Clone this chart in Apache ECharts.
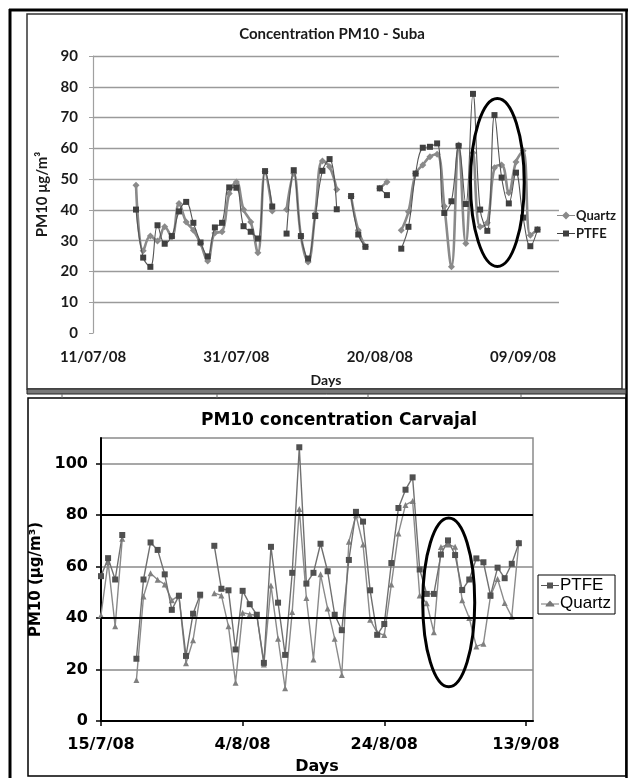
<!DOCTYPE html>
<html><head><meta charset="utf-8">
<script src="https://cdn.jsdelivr.net/npm/echarts@6/dist/echarts.min.js"></script>
<style>html,body{margin:0;padding:0;background:#fff}#c{width:631px;height:778px}</style>
</head><body><div id="c"></div>
<script>
// ---------- Suba (top chart) : day 0 = 11/07/08, first value on day 6 ----------
const subaStartDay = 6;
const subaTickLabels = ['11/07/08', '31/07/08', '20/08/08', '09/09/08'];
const subaQuartz = [48.0, 26.7, 31.5, 29.9, 34.5, 31.2, 42.1, 36.1, 33.4, 29.1,
  23.4, 32.5, 32.9, 45.3, 49.1, 40.1, 36.1, 26.1, 52.4, 39.6,
  null, 40.1, 51.8, 31.5, 23.1, 38.8, 55.9, 54.0, 46.6, null,
  44.3, 33.4, 28.0, null, 47.0, 49.1, null, 33.4, 39.4, 51.8,
  54.6, 57.3, 58.1, 41.2, 21.5, 61.1, 29.1, 58.6, 34.5, 35.8,
  53.7, 54.6, 45.6, 55.6, 59.2, 31.8, 33.6];
const subaPTFE = [40.1, 24.5, 21.5, 35.0, 29.0, 31.5, 39.5, 42.6, 35.8, 29.4,
  24.9, 34.3, 35.8, 47.3, 47.2, 34.7, 32.9, 30.7, 52.6, 41.1,
  null, 32.3, 52.9, 31.5, 24.2, 38.0, 52.7, 56.5, 40.2, null,
  44.5, 32.0, 28.0, null, 47.0, 44.8, null, 27.4, 34.5, 51.8,
  60.2, 60.5, 61.6, 39.0, 42.8, 60.8, 41.9, 77.7, 40.1, 33.2,
  70.8, 50.5, 42.1, 52.1, 37.5, 28.2, 33.6];

// ---------- Carvajal (bottom chart) : day 0 = 15/7/08 ----------
const carvajalStartDay = 0;
const carvajalTickLabels = ['15/7/08', '4/8/08', '24/8/08', '13/9/08'];
const carvajalPTFE = [56.3, 63.3, 55.0, 72.3, null, 24.2, 55.0, 69.4, 66.5, 57.0,
  43.2, 48.7, 25.3, 41.7, 49.1, null, 68.1, 51.4, 50.8, 27.8,
  50.6, 45.4, 41.3, 22.6, 67.7, 46.0, 25.7, 57.6, 106.4, 53.4,
  57.6, 68.9, 58.2, 41.3, 35.3, 62.6, 81.3, 77.5, 50.8, 33.5,
  37.7, 61.4, 82.8, 89.9, 94.7, 58.9, 49.4, 49.4, 64.7, 70.2,
  64.5, 50.9, 55.0, 63.2, 61.7, 48.8, 59.6, 55.5, 61.1, 69.1];
const carvajalQuartz = [41.1, 61.7, 36.8, 70.8, null, 15.9, 48.4, 57.4, 54.9, 53.1,
  46.9, 48.8, 22.4, 31.4, 48.8, null, 49.7, 48.8, 36.8, 14.9,
  42.1, 41.5, 41.0, 22.0, 52.7, 32.0, 12.7, 42.4, 82.4, 47.8,
  23.9, 57.0, 43.7, 32.0, 17.9, 69.7, 80.0, 68.6, 39.4, 34.3,
  33.4, 53.1, 72.9, 84.0, 85.5, 48.8, 45.8, 34.5, 67.6, 68.6,
  67.7, 46.9, 40.0, 29.0, 30.0, 48.6, 55.2, 45.9, 40.5, 69.5];

// highlighted periods (ellipse annotations, in data units)
const subaHighlight = { day: 56.4, value: 48.9, rxDays: 3.75, ryValue: 27.3 };
const carvajalHighlight = { day: 49.1, value: 46.1, rxDays: 3.67, ryValue: 32.8 };

function toPairs(start, arr) { return arr.map((v, i) => [start + i, v]); }

const chart = echarts.init(document.getElementById('c'), null, { renderer: 'canvas' });

const topFont = { fontFamily: 'Lato', fontWeight: 'bold', color: '#1a1a1a' };
const botFont = { fontFamily: 'DejaVu Sans', fontWeight: 'bold', color: '#000' };

// legend glyphs: a short line with a marker in the middle
const iconLineDiamond = 'path://M0,3.5H5.5L9,0L12.5,3.5H18V4.5H12.5L9,8L5.5,4.5H0Z';
const iconLineSquare = 'path://M0,3.5H6V1H12V3.5H18V4.5H12V7H6V4.5H0Z';
const iconLineTriangle = 'path://M0,3.5H6.2L9,0.5L11.8,3.5H18V4.5H12.7L13.6,6.5H4.4L5.3,4.5H0Z';

const staticGraphics = [
  { id: 'outL', type: 'line', shape: { x1: 10, y1: 9, x2: 10, y2: 778 }, style: { stroke: '#000', lineWidth: 3 }, z: 50 },
  { id: 'outT', type: 'line', shape: { x1: 9, y1: 10, x2: 628, y2: 10 }, style: { stroke: '#000', lineWidth: 3 }, z: 50 },
  { id: 'outR', type: 'line', shape: { x1: 626.5, y1: 9, x2: 626.5, y2: 778 }, style: { stroke: '#000', lineWidth: 2.5 }, z: 50 },
  { id: 'topBox', type: 'rect', shape: { x: 27, y: 14, width: 595, height: 375 }, style: { fill: null, stroke: '#333', lineWidth: 1.5 }, z: 50 },
  { id: 'band', type: 'rect', shape: { x: 27, y: 389, width: 599, height: 5 }, style: { fill: '#777', stroke: '#222', lineWidth: 1 }, z: 50 },
  { id: 'botBox', type: 'rect', shape: { x: 28, y: 398, width: 598, height: 378 }, style: { fill: null, stroke: '#000', lineWidth: 1.5 }, z: 50 },
  { id: 'm1', type: 'line', shape: { x1: 62, y1: 394, x2: 62, y2: 398 }, style: { stroke: '#666', lineWidth: 1 }, z: 50 },
  { id: 'm2', type: 'line', shape: { x1: 217, y1: 394, x2: 217, y2: 398 }, style: { stroke: '#666', lineWidth: 1 }, z: 50 },
  { id: 'm3', type: 'line', shape: { x1: 368, y1: 394, x2: 368, y2: 398 }, style: { stroke: '#666', lineWidth: 1 }, z: 50 },
  { id: 'm4', type: 'line', shape: { x1: 521, y1: 394, x2: 521, y2: 398 }, style: { stroke: '#666', lineWidth: 1 }, z: 50 }
];

const option = {
  animation: false,
  backgroundColor: '#fff',
  title: [
    { text: 'Concentration PM10 - Suba', left: 327, top: 22, textAlign: 'center',
      textStyle: Object.assign({ fontSize: 15 }, topFont) },
    { text: 'PM10 concentration Carvajal', left: 334, top: 407, textAlign: 'center',
      textStyle: Object.assign({ fontSize: 17 }, botFont) }
  ],
  legend: [
    { orient: 'vertical', left: 557, top: 209, itemGap: 5, itemWidth: 18, itemHeight: 8, padding: 0,
      selectedMode: false,
      textStyle: Object.assign({ fontSize: 13, padding: [0, 0, 0, -4] }, topFont),
      data: [
        { name: 'Quartz', icon: iconLineDiamond, itemStyle: { color: '#8a8a8a' } },
        { name: 'PTFE', icon: iconLineSquare, itemStyle: { color: '#404040' } }
      ] },
    { orient: 'vertical', left: 538, top: 575, itemGap: 1, itemWidth: 18, itemHeight: 7,
      padding: [2, 4, 2, 3], borderColor: '#000', borderWidth: 1, backgroundColor: '#fff',
      selectedMode: false,
      textStyle: { fontFamily: 'Liberation Sans', fontSize: 17, color: '#000', padding: [0, 0, 0, -4] },
      data: [
        { name: 'PTFE', icon: iconLineSquare, itemStyle: { color: '#555' } },
        { name: 'Quartz', icon: iconLineTriangle, itemStyle: { color: '#777' } }
      ] }
  ],
  grid: [
    { left: 93, top: 56, width: 466, height: 277 },
    { left: 101, top: 438, width: 432, height: 283, show: true, borderColor: '#8a8a8a', borderWidth: 1.5 }
  ],
  xAxis: [
    { type: 'value', gridIndex: 0, min: 0, max: 65, interval: 20,
      axisLine: { show: false }, axisTick: { show: false }, splitLine: { show: false },
      axisLabel: Object.assign({ fontSize: 15, margin: 17, showMaxLabel: false,
        formatter: v => (v % 20 === 0 ? subaTickLabels[v / 20] : '') }, topFont),
      name: 'Days', nameLocation: 'middle', nameGap: 40,
      nameTextStyle: Object.assign({ fontSize: 14 }, topFont) },
    { type: 'value', gridIndex: 1, min: 0, max: 61, interval: 20,
      axisLine: { show: true, lineStyle: { color: '#000', width: 2 } },
      axisTick: { show: true, length: 5, lineStyle: { color: '#000', width: 1.5 } },
      splitLine: { show: false },
      axisLabel: Object.assign({ fontSize: 16, margin: 16, showMaxLabel: false,
        formatter: v => (v % 20 === 0 ? carvajalTickLabels[v / 20] : '') }, botFont),
      name: 'Days', nameLocation: 'middle', nameGap: 38,
      nameTextStyle: Object.assign({ fontSize: 16 }, botFont) }
  ],
  yAxis: [
    { type: 'value', gridIndex: 0, min: 0, max: 90, interval: 10,
      axisLine: { show: true, lineStyle: { color: '#a0a0a0', width: 1.2 } },
      axisTick: { show: true, length: 4, lineStyle: { color: '#a0a0a0' } },
      splitLine: { show: true, showMinLine: false, lineStyle: { color: '#9a9a9a', width: 1.3 } },
      axisLabel: Object.assign({ fontSize: 15, margin: 15 }, topFont),
      name: 'PM10 μg/m³', nameLocation: 'middle', nameGap: 41,
      nameTextStyle: Object.assign({ fontSize: 15 }, topFont) },
    { type: 'value', gridIndex: 1, min: 0, max: 110, interval: 20,
      axisLine: { show: true, lineStyle: { color: '#000', width: 2 } },
      axisTick: { show: true, length: 5, lineStyle: { color: '#000', width: 1.5 } },
      splitLine: { show: true, showMinLine: false, showMaxLine: false, lineStyle: { color: '#8a8a8a', width: 1.5 } },
      axisLabel: Object.assign({ fontSize: 16, margin: 13, showMaxLabel: false }, botFont),
      name: 'PM10 (μg/m³)', nameLocation: 'middle', nameGap: 44,
      nameTextStyle: Object.assign({ fontSize: 15 }, botFont) }
  ],
  series: [
    { name: 'Quartz', type: 'line', xAxisIndex: 0, yAxisIndex: 0, data: toPairs(subaStartDay, subaQuartz),
      smooth: 0.4, connectNulls: false, symbol: 'diamond', symbolSize: 7,
      itemStyle: { color: '#8a8a8a' }, lineStyle: { color: '#8a8a8a', width: 2.6 }, z: 3 },
    { name: 'PTFE', type: 'line', xAxisIndex: 0, yAxisIndex: 0, data: toPairs(subaStartDay, subaPTFE),
      smooth: 0.4, connectNulls: false, symbol: 'rect', symbolSize: 6,
      itemStyle: { color: '#404040' }, lineStyle: { color: '#555', width: 1.1 }, z: 4 },
    { name: 'PTFE', type: 'line', xAxisIndex: 1, yAxisIndex: 1, data: toPairs(carvajalStartDay, carvajalPTFE),
      connectNulls: false, symbol: 'rect', symbolSize: 6,
      itemStyle: { color: '#505050' }, lineStyle: { color: '#707070', width: 1.4 }, z: 4,
      markLine: { silent: true, symbol: 'none', label: { show: false }, animation: false,
        lineStyle: { color: '#000', width: 2, type: 'solid' },
        data: [{ yAxis: 40 }, { yAxis: 80 }] } },
    { name: 'Quartz', type: 'line', xAxisIndex: 1, yAxisIndex: 1, data: toPairs(carvajalStartDay, carvajalQuartz),
      connectNulls: false, symbol: 'triangle', symbolSize: 6,
      itemStyle: { color: '#808080' }, lineStyle: { color: '#8a8a8a', width: 1.4 }, z: 3 }
  ],
  graphic: staticGraphics
};

chart.setOption(option);

function ellipseFor(id, gridIndex, h) {
  const c = chart.convertToPixel({ gridIndex: gridIndex }, [h.day, h.value]);
  const e = chart.convertToPixel({ gridIndex: gridIndex }, [h.day + h.rxDays, h.value + h.ryValue]);
  return { id: id, type: 'ellipse', z: 60,
    shape: { cx: c[0], cy: c[1], rx: Math.abs(e[0] - c[0]), ry: Math.abs(c[1] - e[1]) },
    style: { fill: null, stroke: '#000', lineWidth: 3 } };
}
chart.setOption({ graphic: staticGraphics.concat([
  ellipseFor('ell1', 0, subaHighlight),
  ellipseFor('ell2', 1, carvajalHighlight)
]) });
</script>
</body></html>
